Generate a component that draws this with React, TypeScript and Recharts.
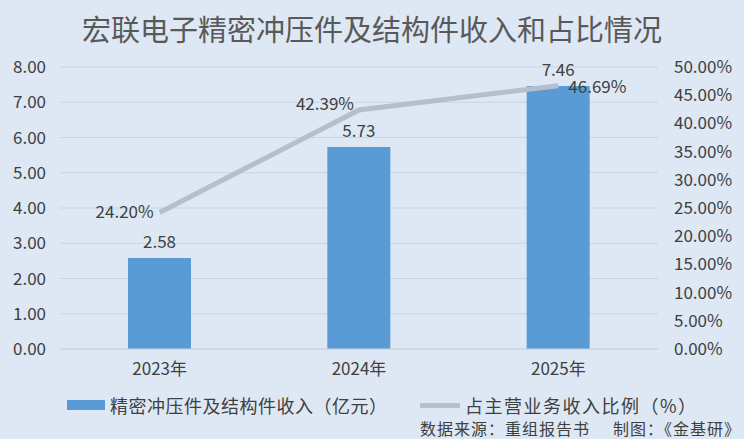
import { ComposedChart, Bar, Line, XAxis, YAxis, CartesianGrid, LabelList } from "recharts";

const YEARS = ["2023年", "2024年", "2025年"];
const REVENUE = [2.58, 5.73, 7.46]; // 亿元
const SHARE = [0.242, 0.4239, 0.4669];
const LEFT_TICKS = [0, 1, 2, 3, 4, 5, 6, 7, 8];
const RIGHT_TICKS = [0, 0.05, 0.1, 0.15, 0.2, 0.25, 0.3, 0.35, 0.4, 0.45, 0.5];

const BG = "#dde8f4";
const BAR = "#5b9bd5";
const LINE = "#b5bfcb";
const GRID = "#c8d4e1";
const TEXT = "#404040";
const FONT = "'Noto Sans CJK SC', 'Noto Sans', sans-serif";

const data = YEARS.map((year, i) => ({ year, revenue: REVENUE[i], share: SHARE[i] }));

const pct = (v: number) => `${(v * 100).toFixed(2)}%`;

function ShareLabel(props: any) {
  const { x, y, value, index } = props;
  let dx = -6;
  let dy = 0;
  let anchor: "start" | "end" = "end";
  if (index === 1) {
    dx = -5;
    dy = -6;
  } else if (index === 2) {
    dx = 10;
    dy = 1;
    anchor = "start";
  }
  return (
    <text x={x + dx} y={y + dy} dy="0.35em" textAnchor={anchor} fontSize={17} fill={TEXT} fontFamily={FONT}>
      {pct(value)}
    </text>
  );
}

export default function App() {
  return (
    <div style={{ position: "absolute", left: 0, top: 0, width: 744, height: 439, background: BG, fontFamily: FONT, overflow: "hidden" }}>
      <div style={{ position: "absolute", top: 10, left: 0, width: 744, textAlign: "center", fontSize: 29, lineHeight: "36px", color: "#595959" }}>
        宏联电子精密冲压件及结构件收入和占比情况
      </div>
      <ComposedChart width={744} height={439} data={data} margin={{ top: 67, right: 0, bottom: 60, left: 0 }}>
        <CartesianGrid yAxisId="left" vertical={false} stroke={GRID} />
        <XAxis
          dataKey="year"
          height={30}
          tickLine={false}
          axisLine={{ stroke: GRID }}
          tickMargin={8}
          tick={{ fontSize: 17, fill: TEXT, fontFamily: FONT }}
        />
        <YAxis
          yAxisId="left"
          width={60}
          domain={[0, 8]}
          ticks={LEFT_TICKS}
          interval={0}
          tickFormatter={(v) => v.toFixed(2)}
          tickLine={false}
          axisLine={false}
          tickSize={0}
          tickMargin={14}
          tick={{ fontSize: 17, fill: TEXT, fontFamily: FONT }}
        />
        <YAxis
          yAxisId="right"
          orientation="right"
          width={86}
          domain={[0, 0.5]}
          ticks={RIGHT_TICKS}
          interval={0}
          tickFormatter={pct}
          tickLine={false}
          axisLine={false}
          tickSize={0}
          tickMargin={16}
          tick={{ fontSize: 17, fill: TEXT, fontFamily: FONT, textAnchor: "start" }}
        />
        <Bar yAxisId="left" dataKey="revenue" fill={BAR} barSize={63} isAnimationActive={false}>
          <LabelList
            dataKey="revenue"
            position="top"
            offset={10}
            formatter={(v: any) => Number(v).toFixed(2)}
            style={{ fontSize: 17, fill: TEXT, fontFamily: FONT }}
          />
        </Bar>
        <Line
          yAxisId="right"
          dataKey="share"
          stroke={LINE}
          strokeWidth={5}
          dot={false}
          activeDot={false}
          isAnimationActive={false}
        >
          <LabelList dataKey="share" content={ShareLabel} />
        </Line>
      </ComposedChart>
      <div style={{ position: "absolute", left: 67, top: 400, width: 38, height: 10, background: BAR }} />
      <div style={{ position: "absolute", left: 110, top: 394, fontSize: 18, letterSpacing: 0.5, lineHeight: "22px", color: TEXT, whiteSpace: "nowrap" }}>
        精密冲压件及结构件收入（亿元）
      </div>
      <div style={{ position: "absolute", left: 420, top: 403, width: 40, height: 5, background: LINE }} />
      <div style={{ position: "absolute", left: 465, top: 394, fontSize: 18, letterSpacing: 1.5, lineHeight: "22px", color: TEXT, whiteSpace: "nowrap" }}>
        占主营业务收入比例（%）
      </div>
      <div style={{ position: "absolute", left: 420, top: 419, fontSize: 16, letterSpacing: 1, lineHeight: "18px", color: TEXT, whiteSpace: "nowrap" }}>
        数据来源：重组报告书&nbsp;&nbsp;&nbsp;&nbsp;&nbsp;制图：《金基研》
      </div>
    </div>
  );
}
